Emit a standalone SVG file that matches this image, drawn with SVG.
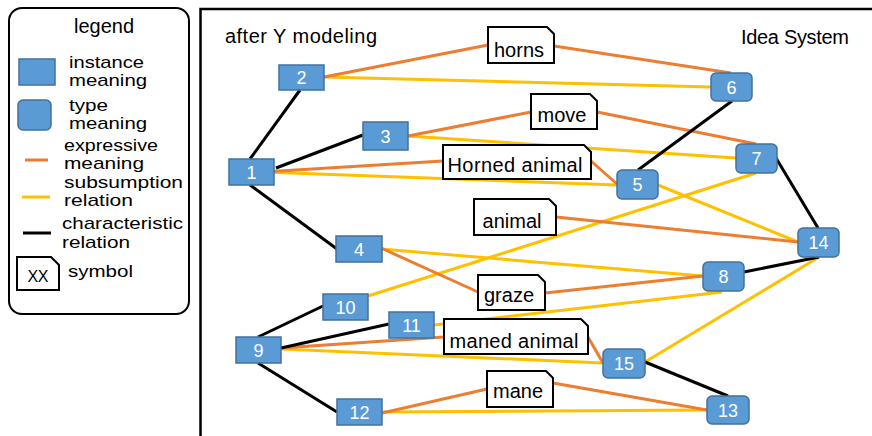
<svg xmlns="http://www.w3.org/2000/svg" width="872" height="436" viewBox="0 0 872 436">
  <style>
    text { font-family: "Liberation Sans", Arial, sans-serif; fill: #000; }
    .lg { font-size: 17px; }
    .hd { font-size: 20px; }
    .sym { font-size: 20px; text-anchor: middle; }
    .num { font-size: 18px; fill: #fff; text-anchor: middle; }
    .inst { fill: #5B9BD5; stroke: #41719C; stroke-width: 1.5; }
    .type { fill: #5B9BD5; stroke: #41719C; stroke-width: 1.5; }
    .box { fill: #fff; stroke: #000; stroke-width: 2; }
    .ex { stroke: #ED7D31; stroke-width: 3; fill: none; }
    .su { stroke: #FFC000; stroke-width: 3; fill: none; }
    .ch { stroke: #000; stroke-width: 3; fill: none; }
  </style>

  <rect width="872" height="436" fill="#fff"/>

  <!-- legend panel -->
  <g id="legend">
    <rect x="9" y="8" width="180" height="306" rx="13" fill="#fff" stroke="#000" stroke-width="2"/>
    <text x="104" y="33" font-size="20" text-anchor="middle">legend</text>
    <rect class="inst" x="19" y="59" width="36" height="26"/>
    <text class="lg" x="69" y="68" textLength="75" lengthAdjust="spacingAndGlyphs">instance</text>
    <text class="lg" x="69" y="86" textLength="78" lengthAdjust="spacingAndGlyphs">meaning</text>
    <rect class="type" x="18" y="100" width="33" height="30" rx="5"/>
    <text class="lg" x="69" y="111" textLength="39" lengthAdjust="spacingAndGlyphs">type</text>
    <text class="lg" x="69" y="129" textLength="78" lengthAdjust="spacingAndGlyphs">meaning</text>
    <line class="ex" x1="25" y1="160" x2="48" y2="160"/>
    <text class="lg" x="64" y="151" textLength="94" lengthAdjust="spacingAndGlyphs">expressive</text>
    <text class="lg" x="64" y="169" textLength="80" lengthAdjust="spacingAndGlyphs">meaning</text>
    <line class="su" x1="22" y1="197" x2="50" y2="197"/>
    <text class="lg" x="64" y="188" textLength="119" lengthAdjust="spacingAndGlyphs">subsumption</text>
    <text class="lg" x="64" y="206" textLength="69" lengthAdjust="spacingAndGlyphs">relation</text>
    <line class="ch" x1="23" y1="233" x2="51" y2="233"/>
    <text class="lg" x="62" y="229" textLength="121" lengthAdjust="spacingAndGlyphs">characteristic</text>
    <text class="lg" x="62" y="248" textLength="68" lengthAdjust="spacingAndGlyphs">relation</text>
    <path class="box" d="M17,257 H51 L59,265 V290 H17 Z"/>
    <text x="38" y="282" font-size="16" text-anchor="middle" textLength="21">XX</text>
    <text class="lg" x="68" y="277" textLength="65" lengthAdjust="spacingAndGlyphs">symbol</text>
  </g>

  <!-- main panel frame and headings -->
  <path d="M872,9 H200.5 V436" fill="none" stroke="#000" stroke-width="2.5"/>
  <text class="hd" x="225" y="43" textLength="152">after Y modeling</text>
  <text class="hd" x="741" y="44" textLength="108">Idea System</text>

  <!-- connectors -->
  <g id="connectors">
    <!-- subsumption -->
    <line class="su" x1="324" y1="77" x2="711" y2="87"/>
    <line class="su" x1="408" y1="136" x2="736" y2="158"/>
    <line class="su" x1="263" y1="172" x2="617" y2="185"/>
    <line class="su" x1="658" y1="185" x2="798" y2="242"/>
    <line class="su" x1="368" y1="296" x2="756" y2="173"/>
    <line class="su" x1="381" y1="249" x2="703" y2="276"/>
    <line class="su" x1="434" y1="325" x2="722" y2="292"/>
    <line class="su" x1="281" y1="349" x2="603" y2="363"/>
    <line class="su" x1="645" y1="362" x2="819" y2="257"/>
    <line class="su" x1="382" y1="412" x2="707" y2="410"/>
    <!-- expressive -->
    <line class="ex" x1="324" y1="77" x2="488" y2="45"/>
    <line class="ex" x1="554" y1="46" x2="731" y2="73"/>
    <line class="ex" x1="408" y1="136" x2="531" y2="112"/>
    <line class="ex" x1="597" y1="112" x2="756" y2="144"/>
    <line class="ex" x1="263" y1="172" x2="443" y2="161"/>
    <line class="ex" x1="591" y1="161" x2="617" y2="184"/>
    <line class="ex" x1="556" y1="217" x2="798" y2="242"/>
    <line class="ex" x1="381" y1="248" x2="478" y2="292"/>
    <line class="ex" x1="545" y1="293" x2="703" y2="276"/>
    <line class="ex" x1="281" y1="348" x2="444" y2="337"/>
    <line class="ex" x1="588" y1="337" x2="603" y2="363"/>
    <line class="ex" x1="382" y1="413" x2="487" y2="389"/>
    <line class="ex" x1="553" y1="383" x2="707" y2="410"/>
    <!-- characteristic -->
    <line class="ch" x1="250" y1="159" x2="300" y2="90"/>
    <line class="ch" x1="276" y1="168" x2="363" y2="135"/>
    <line class="ch" x1="250" y1="185" x2="337" y2="249"/>
    <line class="ch" x1="732" y1="101" x2="638" y2="170"/>
    <line class="ch" x1="776" y1="158" x2="818" y2="228"/>
    <line class="ch" x1="744" y1="272" x2="819" y2="257"/>
    <line class="ch" x1="645" y1="362" x2="728" y2="396"/>
    <line class="ch" x1="258" y1="337" x2="323" y2="306"/>
    <line class="ch" x1="281" y1="348" x2="389" y2="324"/>
    <line class="ch" x1="258" y1="363" x2="337" y2="412"/>
  </g>

  <!-- symbol nodes -->
  <g id="sym-horns"><path class="box" d="M488,27 H547 L554,34 V63 H488 Z"/><text class="sym" x="519" y="57">horns</text></g>
  <g id="sym-move"><path class="box" d="M531,94 H590 L597,101 V129 H531 Z"/><text class="sym" x="562" y="122">move</text></g>
  <g id="sym-horned-animal"><path class="box" d="M443,145 H584 L591,152 V179 H443 Z"/><text class="sym" x="515" y="172" textLength="135">Horned animal</text></g>
  <g id="sym-animal"><path class="box" d="M474,199 H549 L556,206 V235 H474 Z"/><text class="sym" x="512" y="228">animal</text></g>
  <g id="sym-graze"><path class="box" d="M478,275 H538 L545,282 V310 H478 Z"/><text class="sym" x="509" y="302">graze</text></g>
  <g id="sym-maned-animal"><path class="box" d="M444,319 H581 L588,326 V354 H444 Z"/><text class="sym" x="514" y="348" textLength="129">maned animal</text></g>
  <g id="sym-mane"><path class="box" d="M487,371 H546 L553,378 V407 H487 Z"/><text class="sym" x="518" y="398">mane</text></g>

  <!-- instance meaning nodes -->
  <g id="n1"><rect class="inst" x="229" y="159" width="45" height="26"/><text class="num" x="251.5" y="178.5">1</text></g>
  <g id="n2"><rect class="inst" x="279" y="65" width="45" height="25"/><text class="num" x="301.5" y="84">2</text></g>
  <g id="n3"><rect class="inst" x="363" y="122" width="45" height="28"/><text class="num" x="385.5" y="142.5">3</text></g>
  <g id="n4"><rect class="inst" x="336" y="236" width="46" height="26"/><text class="num" x="359" y="255.5">4</text></g>
  <g id="n9"><rect class="inst" x="236" y="337" width="45" height="26"/><text class="num" x="258.5" y="356.5">9</text></g>
  <g id="n10"><rect class="inst" x="323" y="294" width="45" height="26"/><text class="num" x="345.5" y="313.5">10</text></g>
  <g id="n11"><rect class="inst" x="389" y="312" width="45" height="26"/><text class="num" x="411.5" y="331.5">11</text></g>
  <g id="n12"><rect class="inst" x="337" y="399" width="45" height="26"/><text class="num" x="359.5" y="418.5">12</text></g>

  <!-- type meaning nodes -->
  <g id="n5"><rect class="type" x="617" y="170" width="41" height="29" rx="5"/><text class="num" x="637.5" y="191">5</text></g>
  <g id="n6"><rect class="type" x="711" y="73" width="41" height="28" rx="5"/><text class="num" x="731.5" y="93.5">6</text></g>
  <g id="n7"><rect class="type" x="736" y="144" width="41" height="29" rx="5"/><text class="num" x="756.5" y="165">7</text></g>
  <g id="n8"><rect class="type" x="703" y="262" width="41" height="29" rx="5"/><text class="num" x="723.5" y="283">8</text></g>
  <g id="n13"><rect class="type" x="707" y="396" width="42" height="28" rx="5"/><text class="num" x="728" y="416.5">13</text></g>
  <g id="n14"><rect class="type" x="798" y="228" width="41" height="29" rx="5"/><text class="num" x="818.5" y="249">14</text></g>
  <g id="n15"><rect class="type" x="603" y="349" width="42" height="29" rx="5"/><text class="num" x="624" y="370">15</text></g>
</svg>
